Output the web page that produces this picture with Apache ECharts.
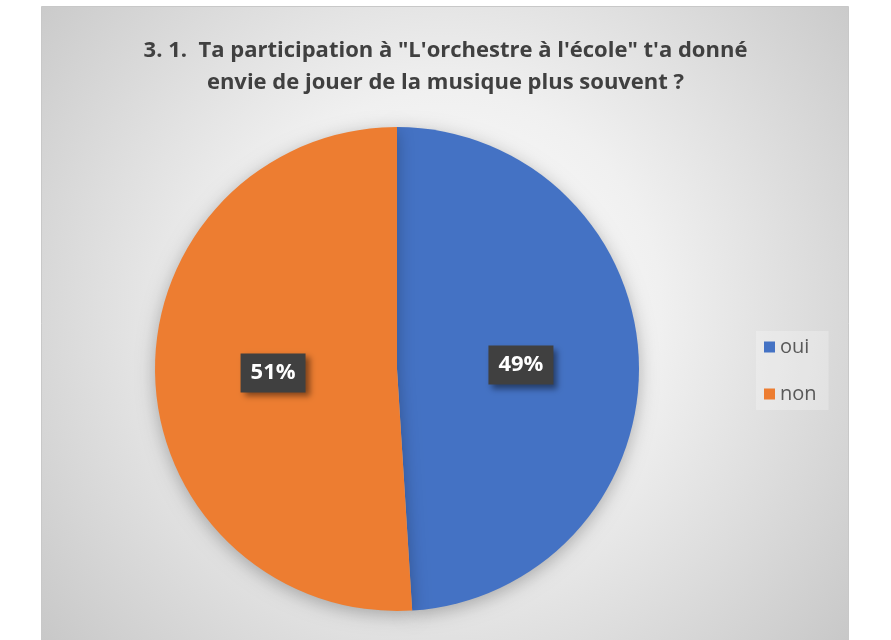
<!DOCTYPE html>
<html>
<head>
<meta charset="utf-8">
<script src="https://cdn.jsdelivr.net/npm/echarts@6/dist/echarts.min.js"></script>
<style>
  html, body { margin: 0; padding: 0; background: #ffffff; }
  #chart { width: 891px; height: 640px; }
</style>
</head>
<body>
<div id="chart"></div>
<script>
// Survey answers: share of pupils (percent)
const categories = ['oui', 'non'];
const shares = [49, 51];
const sliceColors = ['#4472C4', '#ED7D31'];
const titleLines = [
  '3. 1.  Ta participation à "L\'orchestre à l\'école" t\'a donné',
  'envie de jouer de la musique plus souvent ?'
];

const chart = echarts.init(document.getElementById('chart'), null, { renderer: 'canvas' });

const pieData = categories.map((name, i) => ({
  name: name,
  value: shares[i],
  itemStyle: { color: sliceColors[i] }
}));

chart.setOption({
  animation: false,
  backgroundColor: '#ffffff',
  graphic: [{
    type: 'rect',
    z: -10,
    silent: true,
    shape: { x: 41.5, y: 6.5, width: 807, height: 640 },
    style: {
      fill: {
        type: 'radial', x: 0.5, y: 0.47, r: 0.84,
        colorStops: [
          { offset: 0, color: '#ffffff' },
          { offset: 0.4, color: '#f0f0f0' },
          { offset: 1, color: '#c6c6c6' }
        ]
      },
      stroke: '#c8c8c8',
      lineWidth: 1
    }
  }],
  title: {
    text: titleLines.join('\n'),
    left: 'center',
    top: 30,
    textStyle: {
      fontFamily: '"Open Sans", sans-serif',
      fontWeight: 'bold',
      fontSize: 22,
      lineHeight: 32,
      color: '#404040'
    }
  },
  legend: {
    orient: 'vertical',
    left: 756,
    top: 331,
    itemWidth: 11,
    itemHeight: 11,
    itemGap: 27,
    icon: 'rect',
    padding: [6, 12, 6, 8],
    backgroundColor: 'rgba(255,255,255,0.25)',
    textStyle: {
      fontFamily: '"Open Sans", "DejaVu Sans", sans-serif',
      fontSize: 20,
      color: '#595959'
    },
    data: categories
  },
  series: [{
    type: 'pie',
    center: [397, 369],
    radius: 242,
    startAngle: 90,
    clockwise: true,
    data: pieData,
    itemStyle: {
      shadowBlur: 18,
      shadowColor: 'rgba(0,0,0,0.28)',
      shadowOffsetY: 4
    },
    emphasis: { disabled: true },
    label: {
      position: 'inside',
      formatter: '{c}%',
      fontFamily: '"Open Sans", "DejaVu Sans", sans-serif',
      fontWeight: 'bold',
      fontSize: 22,
      color: '#ffffff',
      backgroundColor: '#404040',
      padding: [9, 10, 8, 10],
      shadowBlur: 6,
      shadowColor: 'rgba(0,0,0,0.45)',
      shadowOffsetX: 4,
      shadowOffsetY: 4
    },
    labelLine: { show: false }
  }]
});
</script>
</body>
</html>
